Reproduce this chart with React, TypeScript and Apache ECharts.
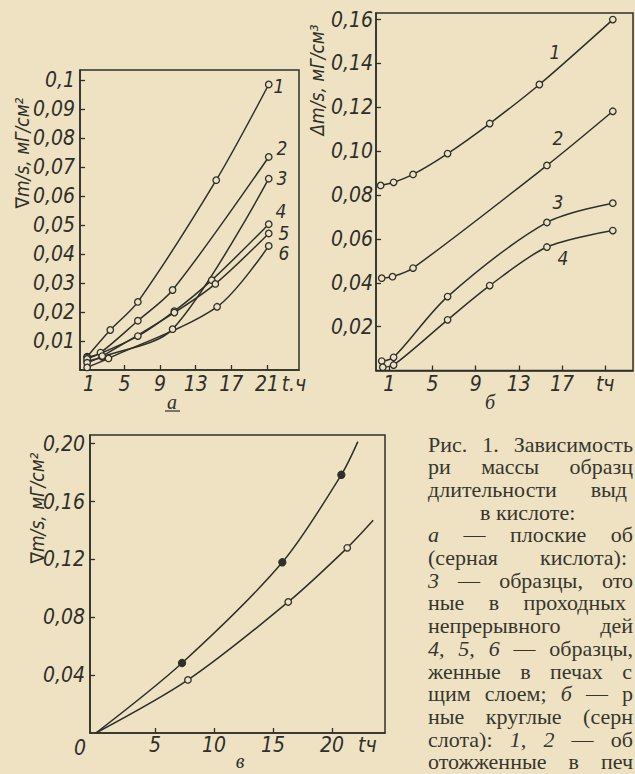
import React, { useEffect, useRef } from "react";
import * as echarts from "echarts";

// ---------- data ----------
// Chart "а": flat specimens, sulphuric acid — [hours, Δm/s mg/cm²]
const curveA1 = [[0.8, 0.0046], [3.4, 0.0138], [6.5, 0.0235], [15.3, 0.0655], [21.2, 0.0985]];
const curveA2 = [[0.8, 0.0043], [2.3, 0.006], [6.5, 0.017], [10.4, 0.0276], [21.2, 0.0735]];
const curveA3 = [[0.8, 0.003], [2.5, 0.0045], [10.4, 0.0141], [21.2, 0.066]];
const curveA4 = [[0.8, 0.0038], [6.5, 0.0117], [10.6, 0.0203], [14.8, 0.031], [21.2, 0.0503]];
const curveA5 = [[0.8, 0.0025], [2.5, 0.0048], [10.6, 0.0198], [15.2, 0.0297], [21.2, 0.0471]];
const curveA6 = [[0.8, 0.0009], [3.2, 0.004], [15.4, 0.0218], [21.2, 0.0428]];

// Chart "б": round specimens
const curveB1 = [[0.2, 0.0844], [1.4, 0.0858], [3.2, 0.0894], [6.4, 0.0989], [10.3, 0.1126], [14.9, 0.1304], [21.7, 0.16]];
const curveB2 = [[0.3, 0.0421], [1.3, 0.0428], [3.2, 0.0467], [15.6, 0.0935], [21.7, 0.1182]];
const curveB3 = [[0.3, 0.0043], [1.4, 0.006], [6.4, 0.0337], [15.6, 0.0675], [21.7, 0.0763]];
const curveB4 = [[0.4, 0.0015], [1.4, 0.0025], [6.4, 0.0231], [10.3, 0.0387], [15.6, 0.0563], [21.7, 0.0638]];

// Chart "в"
const curveV_filled = [[0, 0], [7.3, 0.0484], [15.8, 0.118], [20.8, 0.1785], [22.2, 0.2014]];
const curveV_open = [[0, 0], [7.8, 0.0367], [16.3, 0.0906], [21.3, 0.128], [23.5, 0.147]];
// points drawn without a marker (curve ends)
const bareV_filled = [true, false, false, false, true];
const bareV_open = [true, false, false, false, true];

// tick values
const ticksAx = [1, 5, 9, 13, 17, 21];
const ticksAy = [0.01, 0.02, 0.03, 0.04, 0.05, 0.06, 0.07, 0.08, 0.09, 0.1];
const ticksBx = [1, 5, 9, 13, 17, 21];
const ticksBy = [0.02, 0.04, 0.06, 0.08, 0.1, 0.12, 0.14, 0.16];
const ticksVx = [5, 10, 15, 20];
const labelsVx = [5, 10, 15, 20, 23];
const ticksVy = [0.04, 0.08, 0.12, 0.16, 0.2];

// caption lines: words, "*" = italic
const captionWords: string[][] = [
  ["Рис.", "1.", "Зависимость"],
  ["ри", "массы", "образц"],
  ["длительности", "выд"],
  ["в", "кислоте:"],
  ["*а", "—", "плоские", "об"],
  ["(серная", "кислота):"],
  ["*3", "—", "образцы,", "ото"],
  ["ные", "в", "проходных"],
  ["непрерывного", "дей"],
  ["*4,", "*5,", "*6", "—", "образцы,"],
  ["женные", "в", "печах", "с"],
  ["щим", "слоем;", "*б", "—", "р"],
  ["ные", "круглые", "(серн"],
  ["слота):", "*1,", "*2", "—", "об"],
  ["отожженные", "в", "печ"],
];
// right end of each justified line (0 = centred title line)
const captionRight = [633, 633, 627, 0, 633, 627, 633, 626, 633, 633, 632, 633, 633, 633, 633];

// ---------- styles ----------
const BG = "#eee2c3";
const INK = "#2f2f2a";
const CAP_INK = "#36362f";
const NUM_FONT = "'Liberation Sans Narrow', 'DejaVu Sans Condensed', 'Liberation Sans', sans-serif";
const SERIF = "'Liberation Serif', 'DejaVu Serif', serif";
const CAP_SIZE = 22;

const fmtY2 = (v: number) => v.toFixed(2).replace(".", ",");

function axisLabelStyle(extra: any) {
  return { color: INK, fontFamily: NUM_FONT, fontStyle: "italic", fontSize: 21, ...extra };
}

function xAxis(gridIndex: number, min: number, max: number, ticks: number[], labels: number[], fmt: (v: number) => string, margin: number) {
  return {
    type: "value",
    gridIndex,
    min,
    max,
    axisLine: { show: true, onZero: false, lineStyle: { color: INK, width: 1.5 } },
    axisTick: { show: true, inside: true, length: 5, customValues: ticks, lineStyle: { color: INK, width: 1.3 } },
    axisLabel: axisLabelStyle({ customValues: labels, formatter: fmt, margin, hideOverlap: false }),
    splitLine: { show: false },
  };
}

function yAxis(gridIndex: number, min: number, max: number, ticks: number[], fmt: (v: number) => string, margin: number) {
  return {
    type: "value",
    gridIndex,
    min,
    max,
    axisLine: { show: true, onZero: false, lineStyle: { color: INK, width: 1.5 } },
    axisTick: { show: true, inside: true, length: 5, customValues: ticks, lineStyle: { color: INK, width: 1.3 } },
    axisLabel: axisLabelStyle({ customValues: ticks, formatter: fmt, margin }),
    splitLine: { show: false },
  };
}

function lineSeries(data: any[], xi: number, filled = false, bare?: boolean[]) {
  return {
    type: "line",
    xAxisIndex: xi,
    yAxisIndex: xi,
    smooth: 0.3,
    symbol: "circle",
    symbolSize: filled ? 7 : 6.5,
    data: data.map((p, i) => (bare && bare[i] ? { value: p, symbol: "none" } : { value: p })),
    lineStyle: { color: INK, width: 1.5 },
    itemStyle: { color: filled ? INK : BG, borderColor: INK, borderWidth: 1.3 },
    emphasis: { disabled: true },
    silent: true,
  };
}

function txt(x: number, y: number, text: string, size: number, extra: any = {}) {
  return {
    type: "text",
    x,
    y,
    silent: true,
    style: {
      text,
      fill: INK,
      fontFamily: NUM_FONT,
      fontStyle: "italic",
      fontSize: size,
      align: "center",
      verticalAlign: "middle",
      ...extra,
    },
  };
}

function captionGraphics(): any[] {
  const out: any[] = [];
  const canvas = document.createElement("canvas");
  const ctx = canvas.getContext("2d")!;
  const measure = (w: string, italic: boolean) => {
    ctx.font = `${italic ? "italic " : ""}${CAP_SIZE}px 'Liberation Serif', 'DejaVu Serif', serif`;
    return ctx.measureText(w).width;
  };
  const left = 428;
  captionWords.forEach((words, i) => {
    const y = 444 + i * 22.7;
    const toks = words.map((w) => ({ t: w.startsWith("*") ? w.slice(1) : w, it: w.startsWith("*") }));
    const widths = toks.map((k) => measure(k.t, k.it));
    const total = widths.reduce((a, b) => a + b, 0);
    const space = measure(" ", false);
    let gap = space;
    let x = left;
    if (captionRight[i] > 0 && toks.length > 1) {
      gap = Math.max(space * 0.6, (captionRight[i] - left - total) / (toks.length - 1));
    } else if (captionRight[i] === 0) {
      x = 480;
    }
    toks.forEach((k, j) => {
      out.push({
        type: "text",
        x,
        y,
        silent: true,
        style: {
          text: k.t,
          fill: CAP_INK,
          fontFamily: SERIF,
          fontStyle: k.it ? "italic" : "normal",
          fontSize: CAP_SIZE,
          align: "left",
          verticalAlign: "middle",
        },
      });
      x += widths[j] + gap;
    });
  });
  return out;
}

export default function App() {
  const ref = useRef<HTMLDivElement>(null);

  useEffect(() => {
    if (!ref.current) return;
    const chart = echarts.init(ref.current, undefined, { renderer: "svg" });

    const graphics: any[] = [
      // curve numbers, chart а
      txt(279, 86, "1", 19),
      txt(282, 148, "2", 19),
      txt(282, 178, "3", 19),
      txt(281, 211, "4", 19),
      txt(284, 233, "5", 19),
      txt(284, 253, "6", 19),
      // curve numbers, chart б
      txt(555, 52, "1", 19),
      txt(558, 138, "2", 19),
      txt(558, 202, "3", 19),
      txt(563, 258, "4", 19),
      // axis titles
      { ...txt(22, 153, "∇m/s, мГ/см²", 19), rotation: Math.PI / 2 },
      { ...txt(317, 80, "Δm/s, мГ/см³", 19), rotation: Math.PI / 2 },
      { ...txt(37, 508, "∇m/s, мГ/см²", 19), rotation: Math.PI / 2 },
      // unit label of chart а's time axis
      txt(294, 384, "t.ч", 21),
      // sub-figure letters
      txt(172, 402, "а", 20, { fontFamily: SERIF }),
      { type: "line", silent: true, shape: { x1: 165, y1: 411, x2: 180, y2: 411 }, style: { stroke: INK, lineWidth: 1.2 } },
      txt(490, 402, "б", 20, { fontFamily: SERIF }),
      txt(240, 761, "в", 20, { fontFamily: SERIF }),
      // origin "0" of chart в
      txt(80, 748, "0", 21),
      ...captionGraphics(),
    ];

    chart.setOption({
      animation: false,
      backgroundColor: BG,
      grid: [
        { left: 80, top: 70, width: 219, height: 300, show: true, borderColor: INK, borderWidth: 1.5, backgroundColor: "transparent" },
        { left: 376, top: 13, width: 257, height: 357.5, show: true, borderColor: INK, borderWidth: 1.5, backgroundColor: "transparent" },
        { left: 90, top: 435, width: 295, height: 298, show: true, borderColor: INK, borderWidth: 1.5, backgroundColor: "transparent" },
      ],
      xAxis: [
        xAxis(0, 0, 24.6, ticksAx, ticksAx, (v) => String(v), 3),
        xAxis(1, -0.23, 23.57, ticksBx, ticksBx, (v) => (v > 19 ? "tч" : String(v)), 3),
        xAxis(2, -0.5, 24.5, ticksVx, labelsVx, (v) => (v > 21 ? "tч" : String(v)), 1),
      ],
      yAxis: [
        yAxis(0, 0, 0.1035, ticksAy, (v) => (v > 0.095 ? "0,1" : fmtY2(v)), 5),
        yAxis(1, 0, 0.163, ticksBy, fmtY2, 3),
        yAxis(2, 0, 0.206, ticksVy, fmtY2, 5),
      ],
      series: [
        lineSeries(curveA1, 0),
        lineSeries(curveA2, 0),
        lineSeries(curveA3, 0),
        lineSeries(curveA4, 0),
        lineSeries(curveA5, 0),
        lineSeries(curveA6, 0),
        lineSeries(curveB1, 1),
        lineSeries(curveB2, 1),
        lineSeries(curveB3, 1),
        lineSeries(curveB4, 1),
        lineSeries(curveV_filled, 2, true, bareV_filled),
        lineSeries(curveV_open, 2, false, bareV_open),
      ],
      graphic: graphics,
    });

    return () => chart.dispose();
  }, []);

  return (
    <div
      ref={ref}
      style={{ position: "absolute", left: 0, top: 0, width: 635, height: 774, background: BG }}
    />
  );
}
